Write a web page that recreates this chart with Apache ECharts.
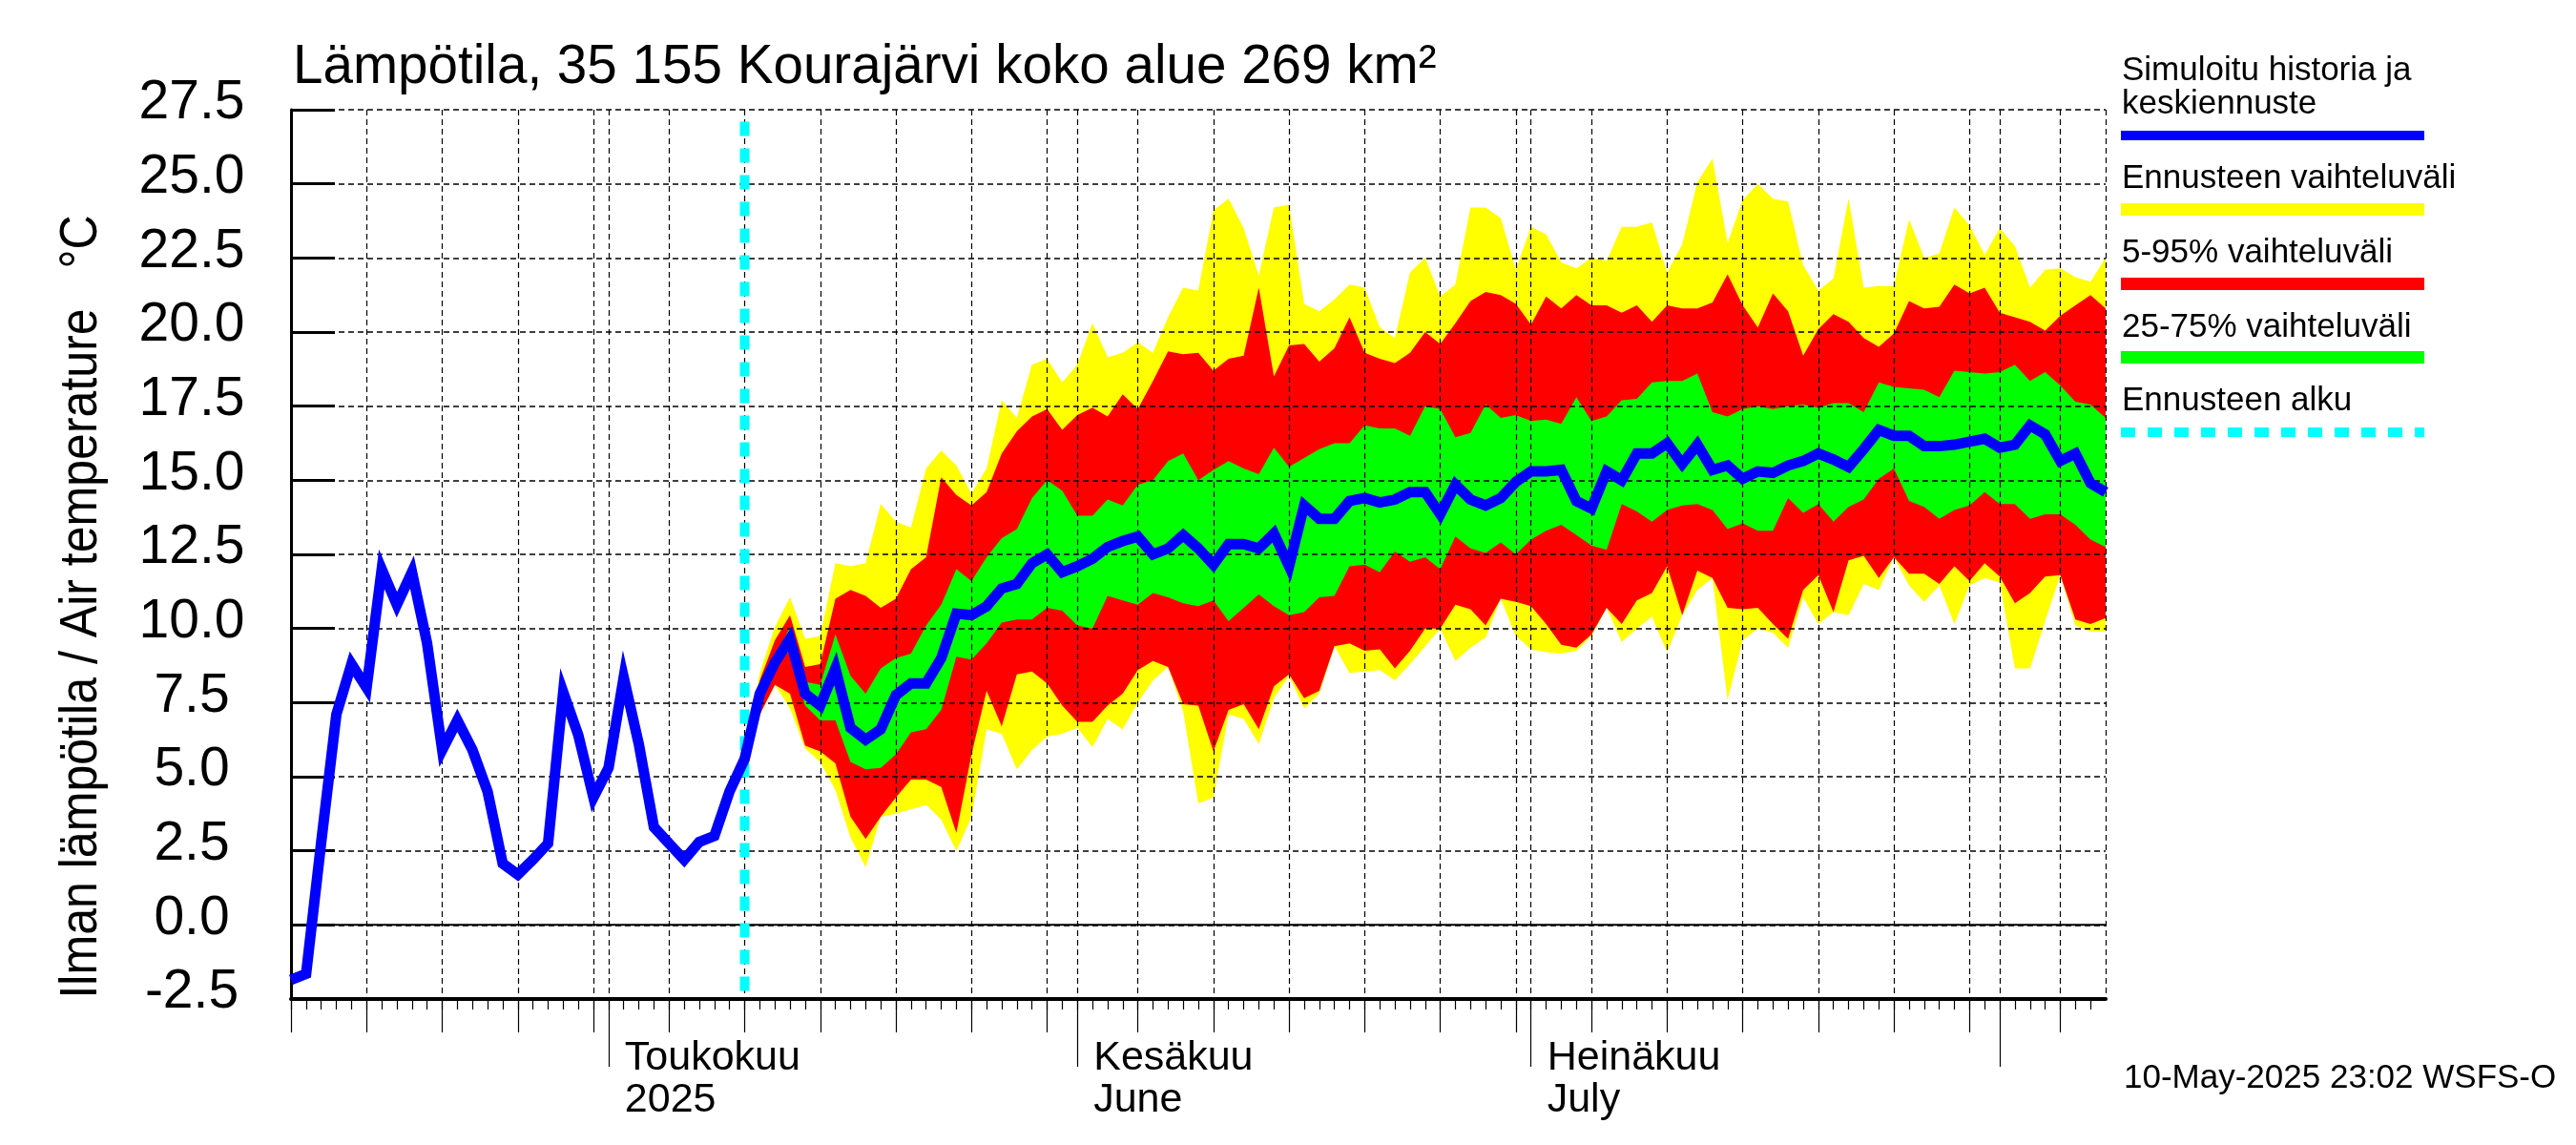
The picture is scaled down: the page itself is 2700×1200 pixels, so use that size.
<!DOCTYPE html>
<html lang="fi">
  <head>
    <meta charset="UTF-8" />
    <title>Lämpötila, 35 155 Kourajärvi</title>
    <script src="https://cdn.jsdelivr.net/npm/echarts@6/dist/echarts.min.js"></script>
    <style>
      html, body { margin: 0; background: #fff; }
    </style>
  </head>

  <body>
    <div id="main" style="width: 2700px; height: 1200px"></div>
    <script type="text/javascript">
      // day 0 = 10 Apr 2025, day 120 = 8 Aug 2025
      const simulated = [
        -1.85, -1.65, 2.8, 7.1, 8.8, 8.0, 12.0, 10.8, 11.9, 9.5,
        5.9, 6.9, 5.9, 4.5, 2.07, 1.7, 2.2, 2.75, 7.85, 6.4,
        4.3, 5.3, 8.35, 6.1, 3.3, 2.75, 2.2, 2.8, 3.0, 4.5,
        5.6, 7.8, 8.85, 9.65, 7.8, 7.4, 8.65, 6.65, 6.25, 6.6,
        7.75, 8.15, 8.15, 9.0, 10.5, 10.45, 10.75, 11.35, 11.5, 12.2,
        12.5, 11.9, 12.1, 12.35, 12.75, 12.95, 13.1, 12.5, 12.7, 13.15,
        12.7, 12.15, 12.85, 12.85, 12.7, 13.2, 12.1, 14.15, 13.7, 13.7,
        14.3, 14.4, 14.25, 14.35, 14.6, 14.6, 13.85, 14.85, 14.35, 14.15,
        14.4, 14.95, 15.3, 15.3, 15.35, 14.3, 14.05, 15.3, 15.0, 15.9,
        15.9, 16.25, 15.55, 16.2, 15.35, 15.5, 15.05, 15.3, 15.25, 15.5,
        15.65, 15.9, 15.7, 15.45, 16.05, 16.7, 16.5, 16.5, 16.15, 16.15,
        16.2, 16.3, 16.4, 16.1, 16.2, 16.85, 16.55, 15.65, 15.9, 14.9,
        14.6,
      ];

      // forecast bands start at the forecast start, day 30
      const forecastStartDay = 30;
      const yellowHigh = [
        5.6, 8.5, 10.05, 11.05, 9.65, 9.75, 12.2, 12.1, 12.2, 14.2,
        13.6, 13.4, 15.4, 16.0, 15.5, 14.55, 15.4, 17.7, 17.1, 18.9,
        19.1, 18.3, 18.9, 20.3, 19.15, 19.3, 19.65, 19.3, 20.5, 21.5,
        21.4, 24.1, 24.5, 23.5, 21.9, 24.2, 24.3, 20.95, 20.7, 21.1,
        21.6, 21.5, 20.15, 19.8, 22.0, 22.5, 21.2, 21.6, 24.2, 24.2,
        23.85, 22.1, 23.55, 23.3, 22.35, 22.15, 22.5, 22.4, 23.55, 23.55,
        23.7, 22.0, 22.95, 25.05, 25.85, 23.0, 24.45, 25.0, 24.5, 24.4,
        22.25, 21.4, 21.8, 24.5, 21.5, 21.55, 21.55, 23.8, 22.5, 22.65,
        24.2, 23.6, 22.6, 23.5, 22.9, 21.5, 22.1, 22.15, 21.85, 21.7,
        22.5,
      ];
      const yellowLow = [
        5.6, 7.05, 8.1, 7.3, 5.95, 5.5, 4.55, 2.95, 1.95, 3.65,
        3.75, 3.9, 4.05, 3.55, 2.5, 3.65, 6.6, 6.45, 5.25, 5.9,
        6.35, 6.45, 6.65, 6.0, 6.95, 6.6, 7.5, 8.25, 8.7, 7.2,
        4.1, 4.3, 7.1, 6.95, 6.1, 7.65, 8.4, 7.3, 7.8, 9.4,
        8.5, 8.55, 8.6, 8.25, 8.8, 9.4, 10.0, 8.9, 9.35, 9.7,
        11.0, 9.75, 9.3, 9.2, 9.15, 9.25, 9.75, 10.7, 9.55, 10.0,
        10.4, 9.2, 10.45, 11.3, 11.7, 7.6, 9.6, 10.0, 9.85, 9.35,
        11.05, 10.15, 10.55, 10.45, 11.5, 11.3, 12.4, 11.45, 10.9, 11.45,
        10.15, 11.45, 11.7, 11.55, 8.65, 8.65, 10.25, 11.8, 10.1, 9.9,
        9.9,
      ];
      const redHigh = [
        5.6, 8.25, 9.6, 10.45, 8.7, 8.8, 11.0, 11.3, 11.1, 10.7,
        11.0, 12.0, 12.4, 15.1, 14.5, 14.15, 14.6, 15.9, 16.65, 17.15,
        17.4, 16.7, 17.2, 17.45, 17.15, 17.9, 17.4, 18.35, 19.35, 19.25,
        19.3, 18.7, 19.1, 19.2, 21.5, 18.5, 19.55, 19.6, 19.0, 19.45,
        20.5, 19.3, 19.1, 18.95, 19.3, 20.0, 19.6, 20.3, 21.05, 21.35,
        21.25, 20.95, 20.25, 21.2, 20.8, 21.25, 20.9, 20.9, 20.65, 20.9,
        20.35, 20.9, 20.8, 20.8, 21.0, 21.95, 20.9, 20.15, 21.3, 20.7,
        19.2, 20.1, 20.6, 20.35, 19.8, 19.5, 19.95, 21.05, 20.8, 20.85,
        21.6, 21.3, 21.5, 20.65, 20.5, 20.35, 20.05, 20.55, 20.9, 21.25,
        20.8,
      ];
      const redLow = [
        5.6, 7.1, 8.1, 7.8, 6.05, 5.85, 5.45, 3.65, 2.9, 3.65,
        4.3, 4.9, 4.9, 4.65, 3.1, 5.75, 7.9, 6.7, 8.45, 8.55,
        8.15, 7.4, 6.85, 6.85, 7.4, 7.8, 8.6, 8.9, 8.7, 7.45,
        7.4, 5.85, 7.25, 7.45, 6.6, 8.05, 8.45, 7.65, 7.9, 9.4,
        9.5, 9.25, 9.3, 8.65, 9.25, 10.0, 10.0, 10.8, 10.65, 10.1,
        11.0, 10.9, 10.75, 10.15, 9.45, 9.35, 9.8, 10.7, 10.15, 10.95,
        11.2, 12.1, 10.45, 11.95, 11.7, 10.7, 10.65, 10.7, 10.15, 9.65,
        11.3, 11.8, 10.55, 12.3, 12.45, 11.7, 12.4, 11.85, 11.85, 11.5,
        12.1, 11.6, 12.2, 11.75, 10.85, 11.2, 11.75, 11.8, 10.3, 10.15,
        10.35,
      ];
      const greenHigh = [
        5.6, 7.9, 9.0, 10.05, 8.2, 8.1, 9.8, 8.4, 7.8, 8.65,
        9.0, 9.15, 10.1, 10.8, 12.0, 11.6, 12.4, 13.05, 13.35, 14.4,
        15.0, 14.65, 13.8, 13.8, 14.35, 14.15, 14.85, 15.0, 15.65, 15.9,
        15.0, 15.35, 15.65, 15.4, 15.2, 16.1, 15.45, 15.75, 16.05, 16.25,
        16.25, 16.85, 16.75, 16.75, 16.5, 17.5, 17.4, 16.45, 16.6, 17.55,
        17.1, 17.2, 17.0, 17.05, 16.9, 17.8, 17.0, 17.15, 17.7, 17.75,
        18.3, 18.35, 18.35, 18.6, 17.3, 17.15, 17.4, 17.5, 17.4, 17.5,
        17.55, 17.45, 17.6, 17.6, 17.3, 18.3, 18.15, 18.1, 18.05, 17.8,
        18.7, 18.65, 18.6, 18.65, 18.9, 18.35, 18.65, 18.2, 17.65, 17.55,
        17.1,
      ];
      const greenLow = [
        5.6, 7.5, 8.8, 9.25, 7.4, 6.9, 6.9, 5.5, 5.25, 5.3,
        5.75, 6.5, 6.6, 7.25, 9.05, 8.95, 9.5, 10.2, 10.3, 10.3,
        10.7, 10.6, 10.1, 10.0, 11.1, 10.95, 10.8, 11.2, 11.05, 10.85,
        10.75, 10.95, 10.25, 10.7, 11.15, 10.75, 10.45, 10.55, 11.05, 11.1,
        12.1, 12.15, 11.9, 12.6, 12.25, 12.4, 12.0, 13.1, 12.7, 12.55,
        12.9, 12.5, 13.0, 13.3, 13.5, 13.15, 12.8, 12.65, 14.2, 13.95,
        13.6, 14.0, 14.15, 14.2, 14.0, 13.35, 13.55, 13.3, 13.3, 14.4,
        13.9, 14.2, 13.6, 14.1, 14.35, 15.05, 15.4, 14.3, 14.1, 13.7,
        14.0, 14.15, 14.6, 14.2, 14.2, 13.7, 13.85, 13.85, 13.5, 13.0,
        12.75,
      ];

      const yMin = -2.5;
      const yMax = 27.5;
      const yStep = 2.5;
      const lastDay = 120;
      const forecastLineTop = 27.1;

      // day numbers of the x axis ticks
      const fiveDayTicks = [
        0, 5, 10, 15, 20, 25, 30, 35, 40, 45, 50, 56, 61, 66, 71, 76, 81, 86,
        91, 96, 101, 106, 111, 117,
      ];
      const monthTicks = [21, 52, 82, 113];
      const monthLabels = { 21: "Toukokuu\n2025", 52: "Kesäkuu\nJune", 82: "Heinäkuu\nJuly" };

      const titleText = "Lämpötila, 35 155 Kourajärvi koko alue 269 km²";
      const yAxisTitle = "Ilman lämpötila / Air temperature   °C";
      const runStamp = "10-May-2025 23:02 WSFS-O";

      const FONT = "Liberation Sans";
      const days = simulated.map((v, i) => i);

      function band(name, color, low, high) {
        const rows = low.map((v, i) => [forecastStartDay + i, v, high[i]]);
        return {
          name: name,
          type: "custom",
          z: 1,
          silent: true,
          data: rows,
          encode: { x: 0, y: [1, 2] },
          renderItem: function (params, api) {
            if (params.dataIndex !== 0) return null;
            const upper = rows.map((r) => api.coord([r[0], r[2]]));
            const lower = rows.map((r) => api.coord([r[0], r[1]])).reverse();
            return {
              type: "polygon",
              shape: { points: upper.concat(lower) },
              style: { fill: color, stroke: null },
            };
          },
        };
      }

      function legendText(text, y) {
        return {
          type: "text",
          x: 2224,
          y: y,
          style: { text: text, fontFamily: FONT, fontSize: 35, fill: "#000", verticalAlign: "bottom" },
        };
      }
      function legendBar(color, top, h) {
        return {
          type: "rect",
          shape: { x: 2223, y: top, width: 318, height: h },
          style: { fill: color },
        };
      }

      const baseX = {
        type: "value",
        min: 0,
        max: lastDay,
        position: "bottom",
        z: 3,
        axisLine: { show: false, onZero: false },
        axisTick: { show: false },
        axisLabel: { show: false },
        splitLine: { show: false },
      };
      const gridDashV = { color: "#000", width: 1.2, type: [6, 4] };
      const gridDashH = { color: "#000", width: 1.6, type: [6, 4] };

      let options = {
        animation: false,
        backgroundColor: "#fff",
        title: {
          text: titleText,
          left: 302,
          top: 38,
          textStyle: { fontFamily: FONT, fontSize: 56.6, fontWeight: "normal", color: "#000" },
        },
        grid: { left: 305, right: 493, top: 115, bottom: 153, containLabel: false },
        xAxis: [
          {
            ...baseX,
            axisLine: { show: true, onZero: false, lineStyle: { color: "#000", width: 4 } },
            axisTick: {
              show: true,
              length: 11,
              customValues: days.slice(0, lastDay),
              lineStyle: { color: "#000", width: 1.2 },
            },
          },
          {
            ...baseX,
            axisTick: {
              show: true,
              length: 35,
              customValues: fiveDayTicks,
              lineStyle: { color: "#000", width: 1.2 },
            },
            splitLine: { show: true, lineStyle: gridDashV },
          },
          {
            ...baseX,
            axisTick: {
              show: true,
              length: 71,
              customValues: monthTicks,
              lineStyle: { color: "#000", width: 1.2 },
            },
            axisLabel: {
              show: true,
              customValues: monthTicks,
              formatter: (v) => monthLabels[v] || "",
              align: "left",
              margin: 40,
              padding: [0, 0, 0, 17],
              fontFamily: FONT,
              fontSize: 43,
              lineHeight: 44,
              color: "#000",
            },
            splitLine: { show: true, lineStyle: gridDashV },
          },
          {
            ...baseX,
            axisTick: { show: false, customValues: [lastDay] },
            splitLine: { show: true, lineStyle: gridDashV },
          },
        ],
        yAxis: {
          type: "value",
          min: yMin,
          max: yMax,
          interval: yStep,
          z: 3,
          axisLine: { show: true, onZero: false, lineStyle: { color: "#000", width: 3 } },
          axisTick: { show: true, inside: true, length: 46, lineStyle: { color: "#000", width: 3 } },
          axisLabel: {
            formatter: (v) => v.toFixed(1),
            align: "center",
            verticalAlign: "bottom",
            lineHeight: 13,
            margin: 104,
            fontFamily: FONT,
            fontSize: 57,
            color: "#000",
          },
          splitLine: { show: true, lineStyle: gridDashH },
        },
        series: [
          band("Ennusteen vaihteluväli", "#ffff00", yellowLow, yellowHigh),
          band("5-95% vaihteluväli", "#ff0000", redLow, redHigh),
          band("25-75% vaihteluväli", "#00ff00", greenLow, greenHigh),
          {
            name: "zero",
            type: "line",
            z: 4,
            silent: true,
            showSymbol: false,
            data: [[0, 0], [lastDay, 0]],
            lineStyle: { color: "#000", width: 2 },
          },
          {
            name: "Ennusteen alku",
            type: "line",
            z: 5,
            silent: true,
            showSymbol: false,
            data: [[forecastStartDay, forecastLineTop], [forecastStartDay, yMin]],
            lineStyle: { color: "#00ffff", width: 10, type: [15, 13] },
          },
          {
            name: "Simuloitu historia ja keskiennuste",
            type: "line",
            z: 6,
            silent: true,
            clip: false,
            showSymbol: false,
            data: simulated.map((v, i) => [i, v]),
            lineStyle: { color: "#0000ff", width: 11, join: "miter", miterLimit: 10, cap: "butt" },
          },
        ],
        graphic: [
          {
            type: "text",
            x: 86,
            y: 636,
            rotation: Math.PI / 2,
            scaleX: 0.91,
            style: {
              text: yAxisTitle,
              fontFamily: FONT,
              fontSize: 55,
              fill: "#000",
              align: "center",
              verticalAlign: "middle",
            },
          },
          legendText("Simuloitu historia ja", 92),
          legendText("keskiennuste", 127),
          legendBar("#0000ff", 137, 10),
          legendText("Ennusteen vaihteluväli", 205),
          legendBar("#ffff00", 213, 13),
          legendText("5-95% vaihteluväli", 283),
          legendBar("#ff0000", 291, 13),
          legendText("25-75% vaihteluväli", 361),
          legendBar("#00ff00", 368, 13),
          legendText("Ennusteen alku", 438),
          {
            type: "line",
            shape: { x1: 2223, y1: 453, x2: 2541, y2: 453 },
            style: { stroke: "#00ffff", lineWidth: 10, lineDash: [15, 13] },
          },
          {
            type: "text",
            x: 2226,
            y: 1148,
            style: { text: runStamp, fontFamily: FONT, fontSize: 35, fill: "#000", verticalAlign: "bottom" },
          },
        ],
      };

      let myChart = echarts.init(document.getElementById("main"));
      myChart.setOption(options);
    </script>
  </body>
</html>
